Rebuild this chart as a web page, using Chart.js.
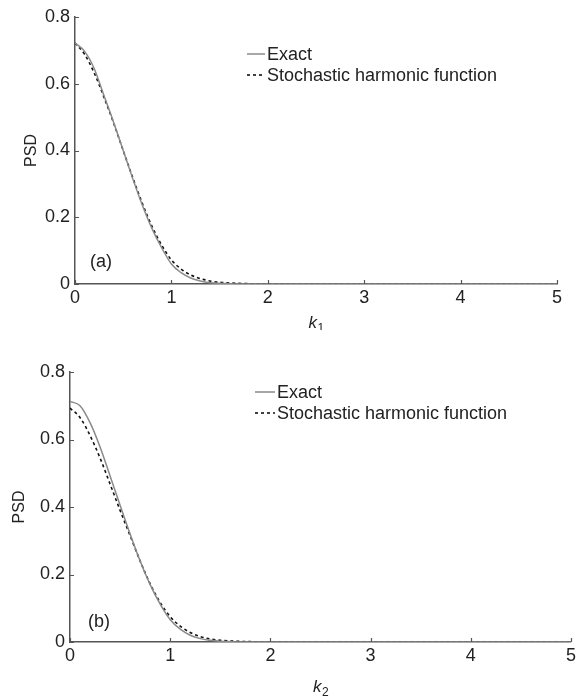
<!DOCTYPE html>
<html>
<head>
<meta charset="utf-8">
<script src="https://cdn.jsdelivr.net/npm/chart.js@4"></script>
<style>
  html, body { margin: 0; padding: 0; background: #fff; }
  .wrap { position: absolute; left: 0; width: 579px; }
</style>
</head>
<body>
<div class="wrap" style="top:0;height:330px"><canvas id="chartA"></canvas></div>
<div class="wrap" style="top:330px;height:370px"><canvas id="chartB"></canvas></div>
<script>
// wavenumber samples
const kValues = [0, 0.1, 0.2, 0.3, 0.4, 0.5, 0.6, 0.7, 0.8, 0.9, 1.0, 1.1, 1.2, 1.3, 1.4, 1.5, 1.6, 1.8, 2, 2.5, 3, 3.5, 4, 4.5, 5];

// panel (a), k1
const exactA = [0.722, 0.697, 0.645, 0.565, 0.485, 0.400, 0.315, 0.235, 0.165, 0.108, 0.060, 0.034, 0.018, 0.009, 0.004, 0.002, 0.001, 0, 0, 0, 0, 0, 0, 0, 0];
const stochA = [0.722, 0.688, 0.632, 0.560, 0.483, 0.400, 0.318, 0.240, 0.172, 0.116, 0.072, 0.045, 0.027, 0.016, 0.009, 0.005, 0.003, 0.001, 0.0005, 0, 0, 0, 0, 0, 0];

// panel (b), k2
const exactB = [0.713, 0.700, 0.650, 0.578, 0.492, 0.405, 0.320, 0.240, 0.170, 0.112, 0.066, 0.038, 0.020, 0.010, 0.005, 0.002, 0.001, 0, 0, 0, 0, 0, 0, 0, 0];
const stochB = [0.693, 0.665, 0.612, 0.545, 0.468, 0.390, 0.315, 0.240, 0.172, 0.117, 0.075, 0.047, 0.028, 0.016, 0.009, 0.005, 0.003, 0.001, 0.0005, 0, 0, 0, 0, 0, 0];

const seriesNames = ['Exact', 'Stochastic harmonic function'];
const yLabel = 'PSD';

const FONT = '"Liberation Sans", Arial, sans-serif';
const textColor = '#222';
const axisColor = '#555';

Chart.defaults.font.family = FONT;
Chart.defaults.font.size = 18;
Chart.defaults.color = textColor;

const toPoints = (ys) => kValues.map((k, i) => ({ x: k, y: ys[i] }));

// inward ticks, legend, panel tag and the k_n axis title
const decor = {
  id: 'decor',
  afterDraw(chart, args, o) {
    const { ctx, chartArea: a, scales: { x, y } } = chart;
    ctx.save();
    ctx.strokeStyle = axisColor;
    ctx.lineWidth = 1.2;
    ctx.beginPath();
    x.ticks.forEach(t => {
      const px = Math.round(x.getPixelForValue(t.value)) + 0.5;
      ctx.moveTo(px, a.bottom); ctx.lineTo(px, a.bottom - 4);
    });
    y.ticks.forEach(t => {
      const py = Math.round(y.getPixelForValue(t.value)) + 0.5;
      ctx.moveTo(a.left, py); ctx.lineTo(a.left + 4, py);
    });
    ctx.stroke();

    ctx.font = '18px ' + FONT;
    ctx.fillStyle = textColor;
    ctx.textBaseline = 'middle';
    chart.data.datasets.forEach((ds, i) => {
      const ly = o.legendY + i * 21;
      ctx.strokeStyle = ds.borderColor;
      ctx.lineWidth = ds.borderWidth;
      ctx.setLineDash(ds.borderDash || []);
      ctx.beginPath();
      ctx.moveTo(o.legendX, ly); ctx.lineTo(o.legendX + o.sample, ly);
      ctx.stroke();
      ctx.setLineDash([]);
      ctx.textAlign = 'left';
      ctx.fillText(ds.label, o.legendX + o.sample + 2, ly + 1);
    });

    ctx.textAlign = 'center';
    ctx.fillText(o.tag, o.tagX, o.tagY);

    // x title: italic k with subscript
    const cx = (a.left + a.right) / 2;
    ctx.textAlign = 'left';
    ctx.textBaseline = 'alphabetic';
    ctx.font = 'italic 17px ' + FONT;
    const kw = ctx.measureText('k').width;
    ctx.font = '12px ' + FONT;
    const sw = ctx.measureText(o.sub).width;
    const sx = cx - (kw + sw) / 2;
    ctx.font = 'italic 17px ' + FONT;
    ctx.fillText('k', sx, o.titleY);
    ctx.font = '12px ' + FONT;
    ctx.fillText(o.sub, sx + kw + 0.5, o.titleY + 4);
    ctx.restore();
  }
};

function makeChart(id, exact, stoch, lay) {
  return new Chart(document.getElementById(id), {
    type: 'line',
    data: {
      datasets: [
        {
          label: seriesNames[0],
          data: toPoints(exact),
          borderColor: '#8a8a8a',
          borderWidth: 1.5,
          pointRadius: 0,
          cubicInterpolationMode: 'monotone',
        },
        {
          label: seriesNames[1],
          data: toPoints(stoch),
          borderColor: '#111',
          borderWidth: 1.6,
          borderDash: [3, 3],
          pointRadius: 0,
          cubicInterpolationMode: 'monotone',
        },
      ],
    },
    options: {
      responsive: true,
      maintainAspectRatio: false,
      animation: false,
      layout: { padding: { left: 0, right: lay.right, top: lay.top, bottom: 0 } },
      plugins: {
        legend: { display: false },
        tooltip: { enabled: false },
        decor: lay.decor,
      },
      scales: {
        x: {
          type: 'linear',
          min: 0,
          max: 5,
          ticks: { stepSize: 1, padding: 3, maxRotation: 0 },
          grid: { display: false, drawTicks: false },
          border: { color: axisColor, width: 1.5 },
          afterFit: (s) => { s.height = lay.xh; },
        },
        y: {
          min: 0,
          max: 0.8,
          ticks: { stepSize: 0.2, padding: 5 },
          grid: { display: false, drawTicks: false },
          border: { color: axisColor, width: 1.5 },
          title: { display: true, text: yLabel, font: { size: 16 }, padding: { top: lay.titlePad, bottom: 0 } },
          afterFit: (s) => { s.width = lay.yw; },
        },
      },
    },
    plugins: [decor],
  });
}

makeChart('chartA', exactA, stochA, {
  right: 22, top: 17, xh: 46, yw: 75, titlePad: 22,
  decor: { legendX: 247, legendY: 54, sample: 18, tag: '(a)', tagX: 101, tagY: 262, sub: '1', titleY: 328 },
});

makeChart('chartB', exactB, stochB, {
  right: 7, top: 42, xh: 58, yw: 70, titlePad: 10,
  decor: { legendX: 255, legendY: 62, sample: 20, tag: '(b)', tagX: 99, tagY: 292, sub: '2', titleY: 362 },
});
</script>
</body>
</html>
